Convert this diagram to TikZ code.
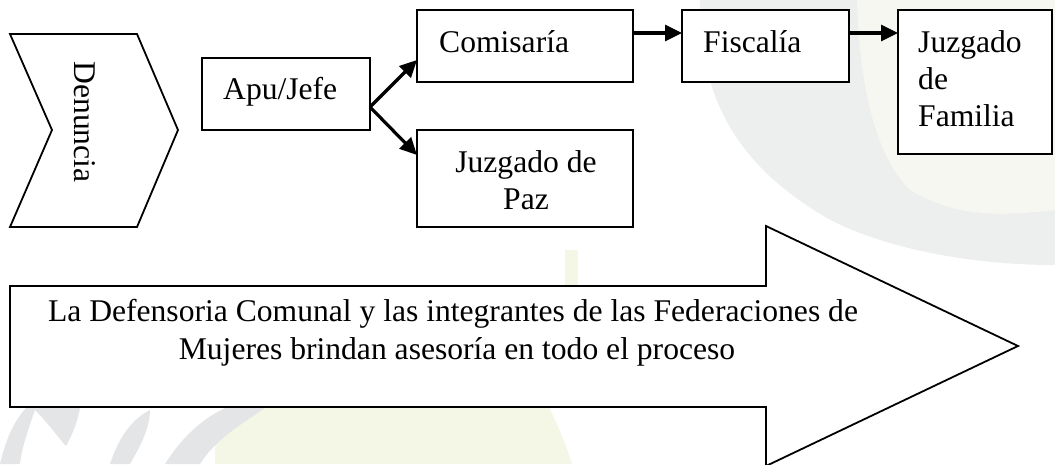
\documentclass[tikz,border=0pt]{standalone}
\usepackage{fontspec}
\setmainfont{Liberation Serif}
\usetikzlibrary{arrows.meta}
\definecolor{wmgrey}{RGB}{237,238,238}
\definecolor{wmcream}{RGB}{247,247,242}
\definecolor{wmdark}{RGB}{228,229,231}
\definecolor{wmyellow}{RGB}{245,247,230}
\begin{document}
\begin{tikzpicture}[x=1pt,y=-1pt,
  box/.style={draw=black, line width=2pt, fill=white, inner sep=0pt, outer sep=0pt},
  outline/.style={draw=black, line width=1.8pt, fill=white, line join=miter},
  lbl/.style={font=\fontsize{31.6}{37.5}\selectfont, inner sep=0pt, anchor=base west},
  clbl/.style={font=\fontsize{31.6}{37.5}\selectfont, inner sep=0pt, anchor=base},
  conn/.style={line width=3.2pt, -{Triangle[length=17pt,width=16pt]}},
]
\useasboundingbox (0,0) rectangle (1055,464);
\clip (0,0) rectangle (1055,464);
% faint watermark
\fill[wmgrey] (700,0) -- (1055,0) -- (1055,265) .. controls (950,265) and (860,240) .. (817,212) .. controls (750,170) and (698,110) .. (700,0) -- cycle;
\fill[wmcream] (857,0) .. controls (860,100) and (880,160) .. (910,190) .. controls (960,220) and (1010,215) .. (1055,210) -- (1055,0) -- cycle;
\fill[wmyellow] (215,464) -- (215,440) .. controls (230,420) and (250,410) .. (265,405) -- (548,405) .. controls (560,430) and (568,450) .. (572,464) -- cycle;
\fill[wmyellow] (565,250) rectangle (578,290);
\fill[wmdark] (0,464) .. controls (8,430) and (20,410) .. (40,395) .. controls (30,425) and (22,445) .. (20,464) -- cycle;
\fill[wmdark] (33,408) .. controls (50,425) and (60,440) .. (66,446) .. controls (75,430) and (78,418) .. (80,408) -- cycle;
\fill[wmdark] (110,464) .. controls (118,440) and (130,420) .. (150,410) .. controls (150,430) and (138,450) .. (130,464) -- cycle;
\fill[wmdark] (165,464) .. controls (180,440) and (200,420) .. (225,408) -- (265,408) .. controls (240,425) and (215,440) .. (200,464) -- cycle;
% chevron
\draw[outline] (10,34) -- (137,34) -- (178,130) -- (137,227) -- (10,227) -- (52,130) -- cycle;
\node[font=\fontsize{31.6}{37.5}\selectfont, inner sep=0pt, rotate=-90] (den) at (85,122) {Denuncia};
% boxes
\node[box, minimum width=168pt, minimum height=72pt] (apu) at (286,94) {};
\node[box, minimum width=216pt, minimum height=72pt] (com) at (525,46) {};
\node[box, minimum width=167pt, minimum height=72pt] (fis) at (765.5,46) {};
\node[box, minimum width=154pt, minimum height=144pt] (fam) at (975,82) {};
\node[box, minimum width=216pt, minimum height=97pt] (paz) at (525,178.5) {};
% labels
\node[lbl] (apu-t) at (223,99) {Apu/Jefe};
\node[lbl] (com-t) at (439,52) {Comisaría};
\node[lbl] (fis-t) at (703,52) {Fiscalía};
\node[lbl] (fam-t1) at (918,52) {Juzgado};
\node[lbl] (fam-t2) at (918,89) {de};
\node[lbl] (fam-t3) at (918,126) {Familia};
\node[clbl] (paz-t1) at (526,172) {Juzgado de};
\node[clbl] (paz-t2) at (526,209) {Paz};
% connectors
\draw[conn] ([yshift=-13pt]apu.east) -- ([yshift=22pt]com.south west);
\draw[conn] ([yshift=-13pt]apu.east) -- ([yshift=-25pt]paz.north west);
\draw[conn] ([yshift=13pt]com.east) -- ([yshift=13pt]fis.west);
\draw[conn] ([yshift=13pt]fis.east) -- ([yshift=49pt]fam.west);
% big arrow
\draw[outline] (10,286) -- (766,286) -- (766,226) -- (1018,346) -- (766,466) -- (766,407) -- (10,407) -- cycle;
\node[clbl] (def-t1) at (453,321) {La Defensoria Comunal y las integrantes de las Federaciones de};
\node[clbl] (def-t2) at (457,359) {Mujeres brindan asesoría en todo el proceso};
\end{tikzpicture}
\end{document}
